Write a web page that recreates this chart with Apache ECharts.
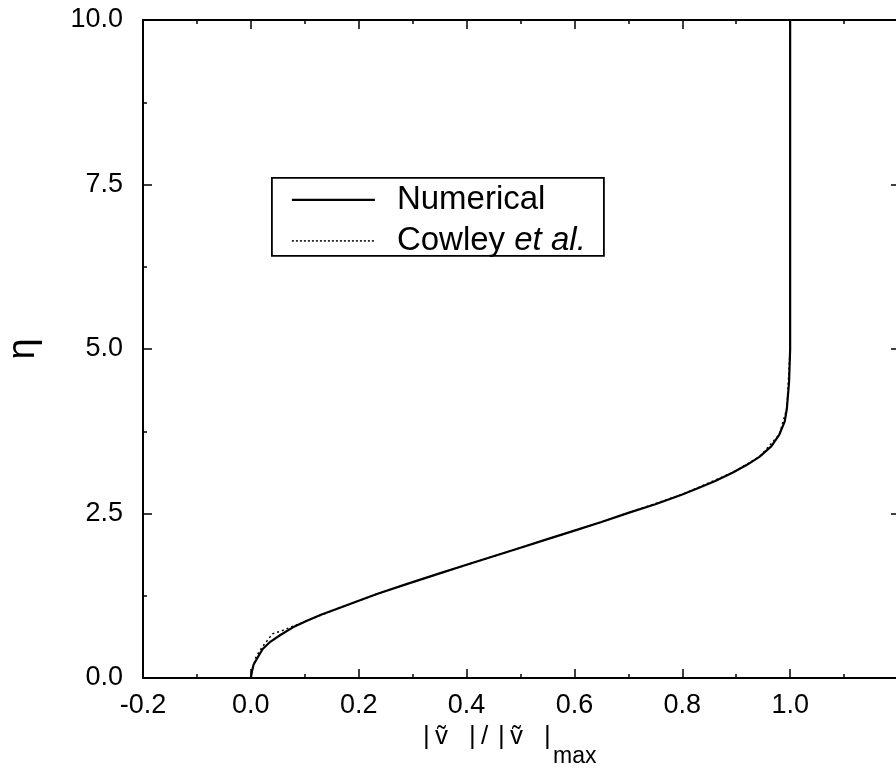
<!DOCTYPE html>
<html>
<head>
<meta charset="utf-8">
<script src="https://cdn.jsdelivr.net/npm/echarts@6/dist/echarts.min.js"></script>
<style>
html,body{margin:0;padding:0;background:#ffffff;}
#chart{width:896px;height:770px;}
</style>
</head>
<body>
<div id="chart"></div>
<script>
// x ticks and labels
const xTickValues = [-0.2, 0.0, 0.2, 0.4, 0.6, 0.8, 1.0, 1.2];
const xTickLabels = ['-0.2', '0.0', '0.2', '0.4', '0.6', '0.8', '1.0', ''];
// y ticks and labels
const yTickValues = [0, 2.5, 5.0, 7.5, 10.0];
const yTickLabels = ['0.0', '2.5', '5.0', '7.5', '10.0'];

// Numerical solution: |v|/|v|max vs eta
const numericalV = [0, 0.002, 0.005, 0.011, 0.022, 0.036, 0.054, 0.078, 0.104, 0.13, 0.159, 0.195, 0.235, 0.29, 0.35, 0.40, 0.45, 0.50, 0.55, 0.60, 0.65, 0.70, 0.75, 0.80, 0.831, 0.86, 0.893, 0.92, 0.943, 0.965, 0.98, 0.99, 0.994, 0.998, 1.0, 1.0, 1.0, 1.0];
const numericalEta = [0, 0.1, 0.2, 0.29, 0.44, 0.55, 0.65, 0.77, 0.87, 0.96, 1.05, 1.16, 1.28, 1.43, 1.59, 1.72, 1.85, 1.98, 2.11, 2.24, 2.37, 2.51, 2.64, 2.79, 2.89, 2.99, 3.12, 3.24, 3.36, 3.52, 3.70, 3.90, 4.10, 4.50, 5.0, 6.0, 8.0, 10.0];

// Cowley et al. (almost coincident with the numerical curve)
const cowleyV = [0, 0.002, 0.006, 0.010, 0.022, 0.040, 0.058, 0.104, 0.159, 0.235, 0.35, 0.50, 0.65, 0.80, 0.893, 0.943, 0.98, 0.994, 1.0, 1.0];
const cowleyEta = [0, 0.1, 0.22, 0.33, 0.48, 0.67, 0.72, 0.87, 1.05, 1.28, 1.59, 1.98, 2.37, 2.79, 3.12, 3.36, 3.70, 4.10, 5.0, 10.0];

const seriesNames = ['Numerical', 'Cowley et al.'];
const xNameMain = '|ṽ|/|ṽ|';
const xNameSub = 'max';
const yName = 'η';

function zip(a, b) { return a.map((v, i) => [v, b[i]]); }
function xLabel(v) {
  const i = xTickValues.findIndex(t => Math.abs(t - v) < 1e-9);
  return i >= 0 ? xTickLabels[i] : '';
}
function yLabel(v) {
  const i = yTickValues.findIndex(t => Math.abs(t - v) < 1e-9);
  return i >= 0 ? yTickLabels[i] : '';
}

const FONT = 'Liberation Sans, Arial, Helvetica, sans-serif';
const axisLine = { show: true, onZero: false, lineStyle: { color: '#000', width: 2 } };
const axisTick = { show: true, inside: true, length: 9, lineStyle: { color: '#000', width: 1.5 } };
const minorTick = { show: true, splitNumber: 2, length: 4, lineStyle: { color: '#000', width: 1.5 } };

// rich tokens for the x-axis title: bars, v-tilde and slash with fixed cell widths
const nb = { fontSize: 26, fontFamily: FONT, color: '#000', lineHeight: 28, align: 'left' };
const chars = Array.from(xNameMain);
const tokenOf = c => (c === '|' ? 'b' : (c === '/' ? 's' : 'v'));
const xNameRich = chars.map(c => '{' + tokenOf(c) + '|' + c + '}').join('');

const chart = echarts.init(document.getElementById('chart'), null, { renderer: 'canvas' });
chart.setOption({
  backgroundColor: '#ffffff',
  animation: false,
  grid: { left: 143, top: 20, width: 755, height: 658, containLabel: false, outerBoundsMode: 'none' },
  xAxis: [
    {
      type: 'value', position: 'bottom', min: -0.2, max: 1.2, interval: 0.2,
      axisLine, axisTick, minorTick, splitLine: { show: false },
      axisLabel: { color: '#000', fontFamily: FONT, fontSize: 27, margin: 14, formatter: xLabel, showMaxLabel: false },
      name: xNameRich,
      nameLocation: 'middle', nameGap: 43,
      nameTextStyle: {
        color: '#000', fontFamily: FONT, padding: [0, 62, 0, 0],
        rich: {
          b: Object.assign({}, nb, { width: 12 }),
          v: Object.assign({}, nb, { width: 34 }),
          s: Object.assign({}, nb, { width: 17 })
        }
      }
    },
    {
      type: 'value', position: 'top', min: -0.2, max: 1.2, interval: 0.2,
      axisLine, axisTick, minorTick, splitLine: { show: false },
      axisLabel: { show: false }
    }
  ],
  yAxis: [
    {
      type: 'value', position: 'left', min: 0, max: 10, interval: 2.5,
      axisLine, axisTick, minorTick, splitLine: { show: false },
      axisLabel: { color: '#000', fontFamily: FONT, fontSize: 27, margin: 20, formatter: yLabel },
      name: yName, nameLocation: 'middle', nameGap: 100,
      nameTextStyle: { color: '#000', fontFamily: FONT, fontSize: 38 }
    },
    {
      type: 'value', position: 'right', min: 0, max: 10, interval: 2.5,
      axisLine, axisTick: Object.assign({}, axisTick, { length: 7 }), minorTick: { show: false }, splitLine: { show: false },
      axisLabel: { show: false }
    }
  ],
  series: [
    {
      name: seriesNames[1], type: 'line', xAxisIndex: 0, yAxisIndex: 0,
      data: zip(cowleyV, cowleyEta), showSymbol: false, symbol: 'none', z: 2,
      lineStyle: { color: '#000', width: 1.5, type: [2, 3] }
    },
    {
      name: seriesNames[0], type: 'line', xAxisIndex: 0, yAxisIndex: 0,
      data: zip(numericalV, numericalEta), showSymbol: false, symbol: 'none', z: 3,
      lineStyle: { color: '#000', width: 2.2 }
    }
  ],
  graphic: [
    // subscript "max" of the x-axis title
    { type: 'text', x: 553, y: 768, style: { text: xNameSub, fill: '#000', font: '23px ' + FONT, verticalAlign: 'bottom', align: 'left' } },
    {
      type: 'group', left: 271, top: 177,
      children: [
        { type: 'rect', shape: { x: 0, y: 0, width: 332, height: 78 }, style: { fill: '#fff', stroke: '#000', lineWidth: 1.8 } },
        { type: 'line', shape: { x1: 20, y1: 22, x2: 103, y2: 22 }, style: { stroke: '#000', lineWidth: 2.2 } },
        { type: 'line', shape: { x1: 20, y1: 63, x2: 103, y2: 63 }, style: { stroke: '#000', lineWidth: 1.5, lineDash: [2, 2] } },
        { type: 'text', x: 125, y: 22, style: { text: seriesNames[0], fill: '#000', font: '33px ' + FONT, verticalAlign: 'middle', align: 'left' } },
        { type: 'text', x: 125, y: 63, style: {
            text: 'Cowley {i|et al.}', fill: '#000', fontSize: 33, fontFamily: FONT, verticalAlign: 'middle', align: 'left',
            rich: { i: { fontSize: 33, fontFamily: FONT, fontStyle: 'italic', fill: '#000' } }
          } }
      ]
    }
  ]
});
</script>
</body>
</html>
